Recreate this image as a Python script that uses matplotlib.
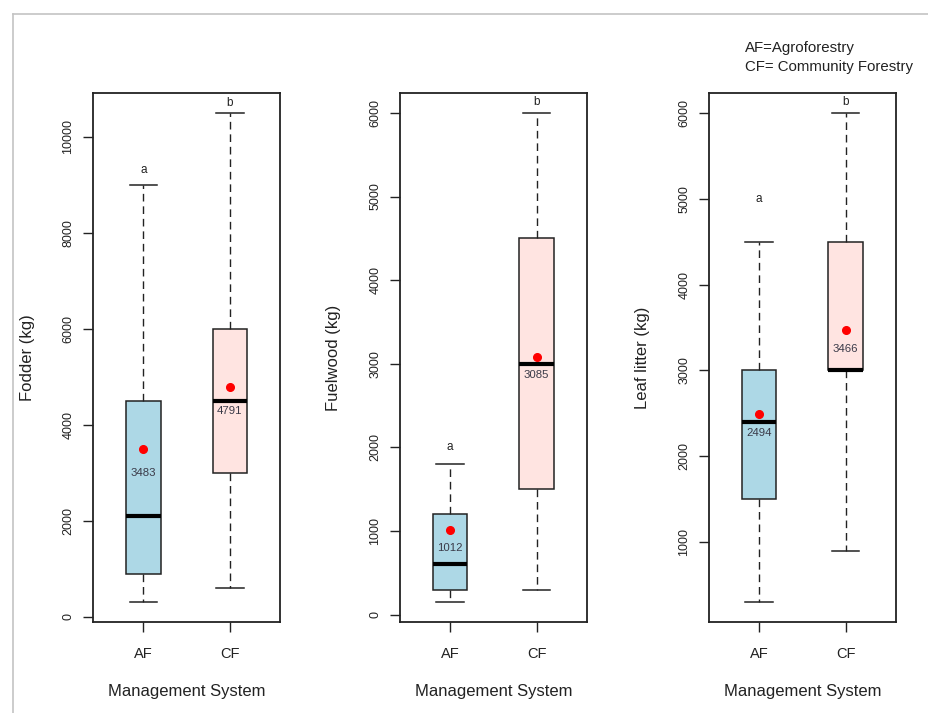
import matplotlib
matplotlib.use("Agg")
import matplotlib.pyplot as plt
from matplotlib.lines import Line2D

plt.rcParams['font.family'] = ['Liberation Sans', 'DejaVu Sans']

# ---- data ---------------------------------------------------------------
groups = ["AF", "CF"]
y_titles = ["Fodder (kg)", "Fuelwood (kg)", "Leaf litter (kg)"]

fodder_whislo = [300, 600]
fodder_q1 = [880, 3000]
fodder_med = [2100, 4500]
fodder_q3 = [4500, 6000]
fodder_whishi = [9000, 10500]
fodder_mean = [3483, 4791]
fodder_letters = ["a", "b"]
fodder_letter_y = [9300, 10700]
fodder_ticks = [0, 2000, 4000, 6000, 8000, 10000]

fuel_whislo = [150, 300]
fuel_q1 = [300, 1500]
fuel_med = [600, 3000]
fuel_q3 = [1200, 4500]
fuel_whishi = [1800, 6000]
fuel_mean = [1012, 3085]
fuel_letters = ["a", "b"]
fuel_letter_y = [2000, 6130]
fuel_ticks = [0, 1000, 2000, 3000, 4000, 5000, 6000]

leaf_whislo = [300, 900]
leaf_q1 = [1500, 3000]
leaf_med = [2400, 3000]
leaf_q3 = [3000, 4500]
leaf_whishi = [4500, 6000]
leaf_mean = [2494, 3466]
leaf_letters = ["a", "b"]
leaf_letter_y = [5000, 6130]
leaf_ticks = [1000, 2000, 3000, 4000, 5000, 6000]

# vertical gap (data units) between each mean dot and its printed value
mean_label_gap = [500, 220, 220]

panels = [
    (fodder_whislo, fodder_q1, fodder_med, fodder_q3, fodder_whishi,
     fodder_mean, fodder_letters, fodder_letter_y, fodder_ticks),
    (fuel_whislo, fuel_q1, fuel_med, fuel_q3, fuel_whishi,
     fuel_mean, fuel_letters, fuel_letter_y, fuel_ticks),
    (leaf_whislo, leaf_q1, leaf_med, leaf_q3, leaf_whishi,
     leaf_mean, leaf_letters, leaf_letter_y, leaf_ticks),
]

box_colors = ["#ADD8E6", "#FFE4E1"]

# ---- figure -------------------------------------------------------------
W, H = 929, 713
fig = plt.figure(figsize=(W / 100, H / 100), dpi=100)

lefts = [93.3, 400.0, 709.0]
ax_w = 186.7
ax_top, ax_bot = 93.3, 621.7

positions = [1, 2]

for i, (wlo, q1, med, q3, whi, mean, letters, letter_y, ticks) in enumerate(panels):
    ax = fig.add_axes([lefts[i] / W, (H - ax_bot) / H, ax_w / W, (ax_bot - ax_top) / H])

    stats = []
    for j in range(len(groups)):
        stats.append(dict(label=groups[j], whislo=wlo[j], q1=q1[j], med=med[j],
                          q3=q3[j], whishi=whi[j], fliers=[]))

    bp = ax.bxp(stats, positions=positions, widths=0.4, capwidths=0.32,
                patch_artist=True, showfliers=False,
                boxprops=dict(edgecolor="#222222", linewidth=1.1),
                medianprops=dict(color="black", linewidth=3.0, solid_capstyle="butt"),
                whiskerprops=dict(color="#222222", linewidth=1.0, linestyle=(0, (5.5, 3.5))),
                capprops=dict(color="#222222", linewidth=1.1))
    for patch, c in zip(bp["boxes"], box_colors):
        patch.set_facecolor(c)

    ax.plot(positions, mean, linestyle="none", marker="o", markersize=5.5,
            color="red", zorder=5)
    for x, m in zip(positions, mean):
        ax.text(x, m - mean_label_gap[i], f"{m}", ha="center", va="center",
                fontsize=8.2, color="#3a3a48", zorder=6)

    for x, t, ly in zip(positions, letters, letter_y):
        ax.text(x, ly, t, ha="center", va="center", fontsize=8.5, color="#222222")

    lo, hi = min(wlo), max(whi)
    pad = (hi - lo) * 0.04
    ax.set_ylim(lo - pad, hi + pad)
    ax.set_xlim(0.42, 2.58)

    ax.set_yticks(ticks)
    ax.set_yticklabels([str(t) for t in ticks], rotation=90, va="center",
                       fontsize=9, color="#222222")
    ax.set_xticks(positions)
    ax.set_xticklabels(groups, fontsize=10.5, color="#222222")

    ax.tick_params(axis="y", length=7.5, width=1.0, pad=6, color="#222222")
    ax.tick_params(axis="x", length=7.5, width=1.0, pad=10.5, color="#222222")
    for sp in ax.spines.values():
        sp.set_linewidth(1.3)
        sp.set_color("#222222")

    ax.set_ylabel(y_titles[i], fontsize=12, color="#222222", va="center")
    ax.yaxis.set_label_coords(-66 / ax_w, 0.5)
    ax.set_xlabel("Management System", fontsize=12, color="#222222", va="center")
    ax.xaxis.set_label_coords(0.5, -70 / (ax_bot - ax_top))

# abbreviation key
fig.text(745 / W, 1 - 52 / H, "AF=Agroforestry", fontsize=10.8, color="#222222",
         ha="left", va="baseline")
fig.text(745 / W, 1 - 71 / H, "CF= Community Forestry", fontsize=10.8, color="#222222",
         ha="left", va="baseline")

# light frame around the drawing area
fig.add_artist(Line2D([13.5 / W, 13.5 / W], [0, 1 - 13.5 / H], transform=fig.transFigure,
                      color="#c4c4c4", linewidth=1.2))
fig.add_artist(Line2D([13.5 / W, 1], [1 - 13.5 / H, 1 - 13.5 / H], transform=fig.transFigure,
                      color="#c4c4c4", linewidth=1.2))

fig.savefig("out.png", dpi=100)
